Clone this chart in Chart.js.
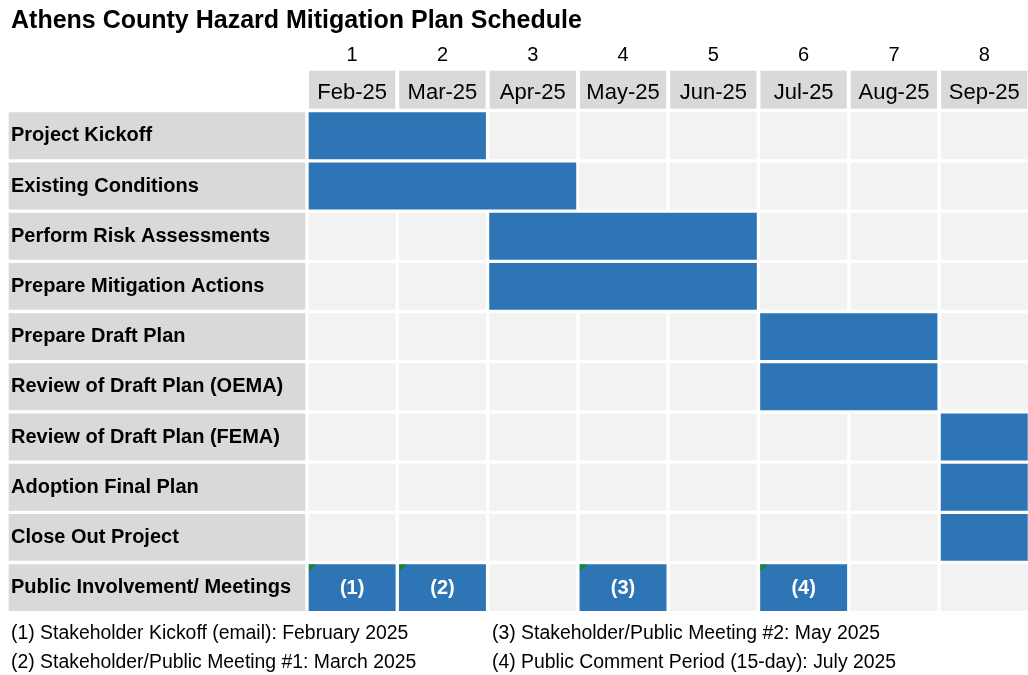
<!DOCTYPE html>
<html>
<head>
<meta charset="utf-8">
<script src="https://cdn.jsdelivr.net/npm/chart.js@4.4.1/dist/chart.umd.min.js"></script>
<style>
  html, body { margin: 0; padding: 0; background: #fff; overflow: hidden; }
  #wrap { position: relative; width: 1028px; height: 675px; overflow: hidden; }
  #schedule { position: absolute; left: 0; top: 0; }
  .txt { position: absolute; font-family: 'Liberation Sans', Arial, sans-serif; color: #000; white-space: nowrap; }
  #title { left: 11px; top: 4px; font-size: 25px; font-weight: bold; line-height: 30px; }
  .note { font-size: 19.4px; line-height: 22px; }
</style>
</head>
<body>
<div id="wrap">
  <canvas id="schedule" width="1032" height="675"></canvas>
  <div id="title" class="txt"></div>
  <div id="notes"></div>
</div>
<script>
const chartTitle = 'Athens County Hazard Mitigation Plan Schedule';
const monthNumbers = ['1', '2', '3', '4', '5', '6', '7', '8'];
const months = ['Feb-25', 'Mar-25', 'Apr-25', 'May-25', 'Jun-25', 'Jul-25', 'Aug-25', 'Sep-25'];
const rows = [
  'Project Kickoff',
  'Existing Conditions',
  'Perform Risk Assessments',
  'Prepare Mitigation Actions',
  'Prepare Draft Plan',
  'Review of Draft Plan (OEMA)',
  'Review of Draft Plan (FEMA)',
  'Adoption Final Plan',
  'Close Out Project',
  'Public Involvement/ Meetings',
];
// month index where each task bar starts / ends (first 9 rows)
const taskStart = [0, 0, 2, 2, 5, 5, 7, 7, 7];
const taskEnd = [2, 3, 5, 5, 7, 7, 8, 8, 8];
// public involvement meetings (last row)
const meetingStart = [0, 1, 3, 5];
const meetingEnd = [1, 2, 4, 6];
const meetingLabels = ['(1)', '(2)', '(3)', '(4)'];
const footnotes = [
  '(1) Stakeholder Kickoff (email): February 2025',
  '(2) Stakeholder/Public Meeting #1: March 2025',
  '(3) Stakeholder/Public Meeting #2: May 2025',
  '(4) Public Comment Period (15-day): July 2025',
];

// the label column sits left of month 0 on the same axis
const labelColumnStart = -3.322;

const blue = '#2e75b6';
const cellGrey = '#f2f2f2';
const headGrey = '#d9d9d9';
const fontFamily = "'Liberation Sans', Arial, sans-serif";

document.getElementById('title').textContent = chartTitle;
const notesEl = document.getElementById('notes');
const notePos = [[11, 621], [11, 650], [492, 621], [492, 650]];
footnotes.forEach((t, i) => {
  const d = document.createElement('div');
  d.className = 'txt note';
  d.style.left = notePos[i][0] + 'px';
  d.style.top = notePos[i][1] + 'px';
  d.textContent = t;
  notesEl.appendChild(d);
});

const labelCells = rows.map((r) => ({ x: [labelColumnStart, 0], y: r }));
const gridCells = [];
rows.forEach((r) => {
  months.forEach((m, i) => {
    gridCells.push({ x: [i, i + 1], y: r });
  });
});
const taskBars = taskStart.map((s, i) => ({ x: [s, taskEnd[i]], y: rows[i] }));
const meetingBars = meetingStart.map((s, i) => ({ x: [s, meetingEnd[i]], y: rows[rows.length - 1] }));

const barStyle = {
  borderColor: '#ffffff',
  borderWidth: 2,
  borderSkipped: false,
  barPercentage: 1,
  categoryPercentage: 1,
  grouped: false,
};

const headerBoxes = {
  id: 'headerBoxes',
  beforeDraw(chart) {
    const { ctx } = chart;
    const { x } = chart.scales;
    ctx.save();
    ctx.fillStyle = headGrey;
    months.forEach((m, i) => {
      const left = x.getPixelForValue(i) + 2;
      const right = x.getPixelForValue(i + 1) - 2;
      ctx.fillRect(left, x.top, right - left, x.bottom - x.top - 2);
    });
    ctx.restore();
  },
};

const meetingMarks = {
  id: 'meetingMarks',
  afterDatasetsDraw(chart) {
    const { ctx } = chart;
    const meta = chart.getDatasetMeta(3);
    ctx.save();
    meta.data.forEach((bar, i) => {
      const { x, y, base, height } = bar.getProps(['x', 'y', 'base', 'height'], true);
      const left = Math.min(x, base) + 2;
      const top = y - height / 2 + 2;
      ctx.fillStyle = '#178a17';
      ctx.beginPath();
      ctx.moveTo(left, top);
      ctx.lineTo(left + 7, top);
      ctx.lineTo(left, top + 7);
      ctx.closePath();
      ctx.fill();
      ctx.fillStyle = '#ffffff';
      ctx.font = `bold 20px ${fontFamily}`;
      ctx.textAlign = 'center';
      ctx.textBaseline = 'middle';
      ctx.fillText(meetingLabels[i], (x + base) / 2, y + 1);
    });
    ctx.restore();
  },
};

const topAxis = (labels, weight, height, size, padding) => ({
  type: 'linear',
  position: 'top',
  weight,
  min: labelColumnStart,
  max: months.length,
  grid: { display: false, drawTicks: false },
  border: { display: false },
  afterBuildTicks: (scale) => {
    scale.ticks = labels.map((l, i) => ({ value: i + 0.5 }));
  },
  afterFit: (scale) => {
    scale.height = height;
  },
  ticks: {
    autoSkip: false,
    maxRotation: 0,
    padding,
    color: '#000',
    font: { family: fontFamily, size },
    callback: (v, i) => labels[i],
  },
});

new Chart(document.getElementById('schedule'), {
  type: 'bar',
  data: {
    datasets: [
      { ...barStyle, label: 'labels', data: labelCells, backgroundColor: headGrey, order: 4 },
      { ...barStyle, label: 'cells', data: gridCells, backgroundColor: cellGrey, order: 3 },
      { ...barStyle, label: 'tasks', data: taskBars, backgroundColor: blue, order: 2 },
      { ...barStyle, label: 'meetings', data: meetingBars, backgroundColor: blue, order: 1 },
    ],
  },
  options: {
    indexAxis: 'y',
    responsive: false,
    animation: false,
    layout: { padding: { left: 7, right: 2.6, top: 32, bottom: 62.3 } },
    plugins: {
      legend: { display: false },
      tooltip: { enabled: false },
      title: { display: false },
    },
    scales: {
      x: topAxis(months, 0, 40, 22, 5),
      x2: topAxis(monthNumbers, 1, 38.7, 20, 3),
      y: {
        type: 'category',
        labels: rows,
        position: 'left',
        offset: true,
        grid: { display: false, drawTicks: false },
        border: { display: false },
        afterFit: (scale) => {
          scale.width = 0;
        },
        ticks: {
          mirror: true,
          crossAlign: 'near',
          padding: 4,
          z: 1,
          autoSkip: false,
          color: '#000',
          font: { family: fontFamily, size: 20, weight: 'bold' },
        },
      },
    },
  },
  plugins: [headerBoxes, meetingMarks],
});
</script>
</body>
</html>
